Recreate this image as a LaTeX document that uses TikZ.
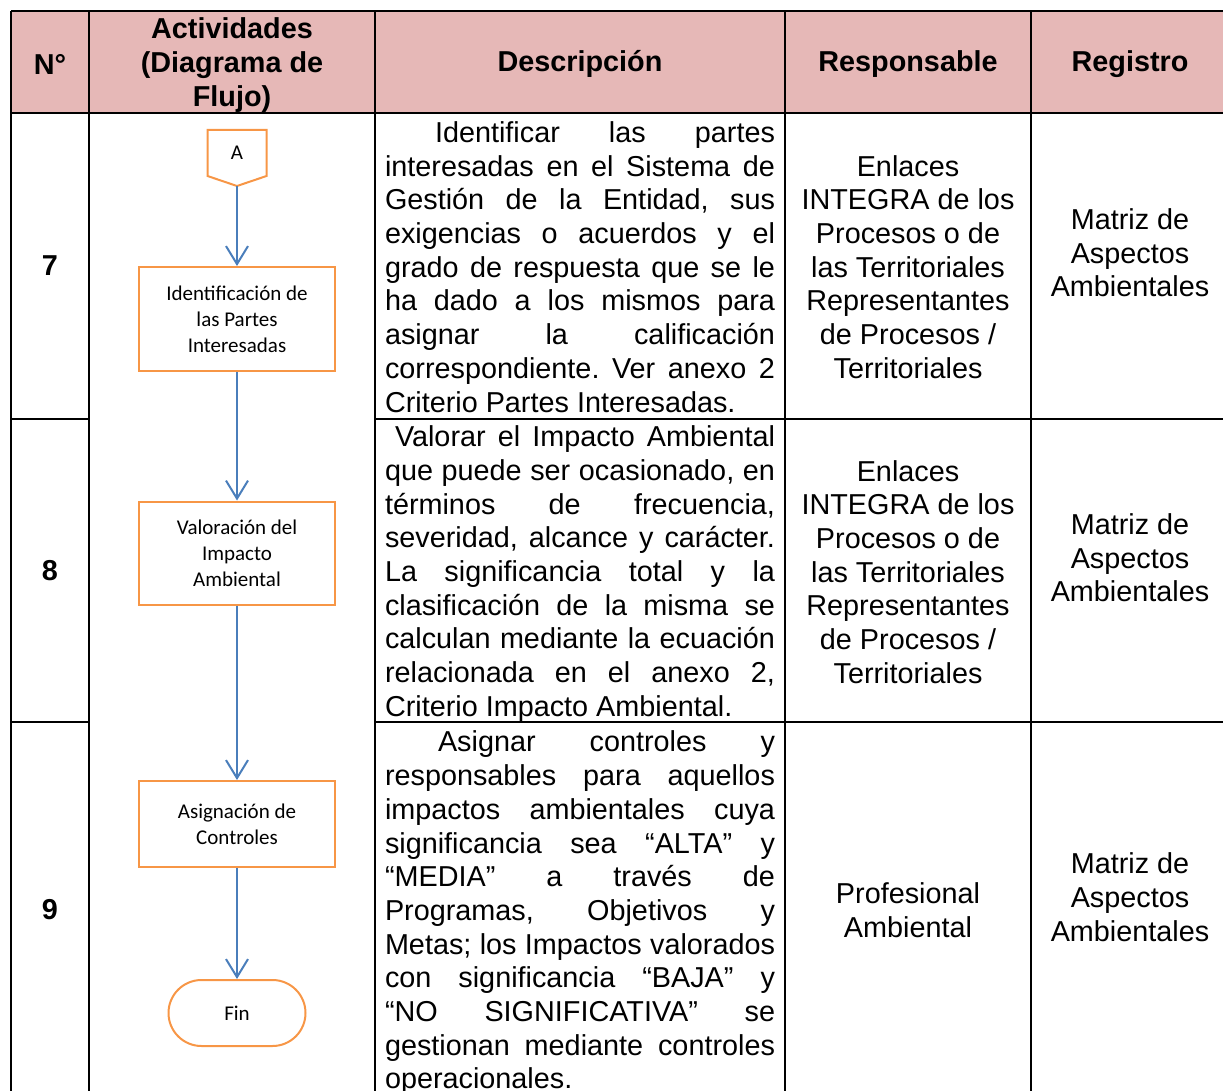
\documentclass[tikz,border=0pt]{standalone}
\usepackage{fontspec}
\setmainfont{Liberation Sans}
\newfontfamily\calibri{Carlito}
\usetikzlibrary{arrows.meta,positioning}
\definecolor{hdrpink}{RGB}{230,184,183}
\definecolor{boxorange}{RGB}{247,150,70}
\definecolor{lineblue}{RGB}{74,126,187}
\tolerance=10000
\hbadness=10000
\frenchspacing
\newcommand{\bodytxt}{\fontsize{28.8}{33.7}\selectfont}
\newcommand{\chartxt}{\calibri\fontsize{21}{26}\selectfont}
\tikzset{tabline/.style={line width=2.2pt}}
\tikzset{hdr/.style={font=\bodytxt\bfseries, align=center}}
\tikzset{cell/.style={font=\bodytxt, align=center}}
\tikzset{desc/.style={font=\bodytxt, text width=390pt, align=justify, inner sep=0pt}}
\tikzset{actbox/.style={draw=boxorange, line width=2pt, font=\chartxt, align=center, minimum width=196pt}}
\tikzset{flow/.style={draw=lineblue, line width=2pt, -{Straight Barb[length=18pt,width=22pt]}}}

\begin{document}
\begin{tikzpicture}[x=1pt,y=-1pt]
  \useasboundingbox (0,0) rectangle (1223,1091);
  \clip (0,0) rectangle (1223,1091);

  % header band and table rules
  \fill[hdrpink] (11,11) rectangle (1240,113);
  \draw[tabline] (11,11) -- (1240,11);
  \draw[tabline] (11,113) -- (1240,113);
  \draw[tabline] (11,419) -- (89,419);
  \draw[tabline] (375,419) -- (1240,419);
  \draw[tabline] (11,722) -- (89,722);
  \draw[tabline] (375,722) -- (1240,722);
  \foreach \x in {11,89,375,785,1031}
    \draw[tabline] (\x,11) -- (\x,1100);

  \node[hdr] (hdNum) at (50,64) {N°};
  \node[hdr] (hdAct) at (232,65) {Actividades\\(Diagrama de\\Flujo)};
  \node[hdr] (hdDesc) at (580,64) {Descripción};
  \node[hdr] (hdResp) at (908,64) {Responsable};
  \node[hdr] (hdReg) at (1130,64) {Registro};

  \node[hdr] (num7) at (50,266) {7};
  \node[hdr] (num8) at (50,571) {8};
  \node[hdr] (num9) at (50,910) {9};

  \node[desc] (desc7) at (580,267) {\noindent\hspace*{50pt}Identificar las partes\linebreak
    interesadas en el Sistema de\linebreak Gestión de la Entidad, sus\linebreak
    exigencias o acuerdos y el\linebreak grado de respuesta que se le\linebreak
    ha dado a los mismos para\linebreak asignar la calificación\linebreak
    correspondiente. Ver anexo 2\linebreak Criterio Partes Interesadas.};
  \node[desc] (desc8) at (580,574) {\noindent\hspace*{10pt}Valorar el Impacto Ambiental\linebreak
    que puede ser ocasionado, en\linebreak términos de frecuencia,\linebreak
    severidad, alcance y carácter.\linebreak La significancia total y la\linebreak
    clasificación de la misma se\linebreak calculan mediante la ecuación\linebreak
    relacionada en el anexo 2,\linebreak Criterio Impacto Ambiental.};
  \node[desc] (desc9) at (580,913) {\noindent\hspace*{53pt}Asignar controles y\linebreak
    responsables para aquellos\linebreak impactos ambientales cuya\linebreak
    significancia sea “ALTA” y\linebreak “MEDIA” a través de\linebreak
    Programas, Objetivos y\linebreak Metas; los Impactos valorados\linebreak
    con significancia “BAJA” y\linebreak “NO SIGNIFICATIVA” se\linebreak
    gestionan mediante controles\linebreak operacionales.};

  \node[cell] (resp7) at (908,267) {Enlaces\\INTEGRA de los\\Procesos o de\\las Territoriales\\Representantes\\de Procesos /\\Territoriales};
  \node[cell] (resp8) at (908,572) {Enlaces\\INTEGRA de los\\Procesos o de\\las Territoriales\\Representantes\\de Procesos /\\Territoriales};
  \node[cell] (resp9) at (908,910) {Profesional\\Ambiental};

  \node[cell] (reg7) at (1130,253) {Matriz de\\Aspectos\\Ambientales};
  \node[cell] (reg8) at (1130,558) {Matriz de\\Aspectos\\Ambientales};
  \node[cell] (reg9) at (1130,897) {Matriz de\\Aspectos\\Ambientales};

  % flow chart
  \node[actbox, draw=none, outer sep=0pt, minimum width=59pt, minimum height=46pt] (A) at (237,153) {A};
  \coordinate (Atip) at ([yshift=-10pt]A.south);
  \draw[boxorange, line width=2pt] (A.north west) -- (A.north east) -- (A.south east)
    -- (Atip) -- (A.south west) -- cycle;
  \node[actbox, minimum height=104pt] (ident) at (237,319) {Identificación de\\las Partes\\Interesadas};
  \node[actbox, minimum height=103pt] (valor) at (237,553) {Valoración del\\Impacto\\Ambiental};
  \node[actbox, minimum height=86pt] (asign) at (237,824) {Asignación de\\Controles};
  \node[actbox, minimum width=137pt, minimum height=66pt, rounded corners=33pt] (fin) at (237,1013) {Fin};

  \draw[flow] (Atip) -- (ident);
  \draw[flow] (ident) -- (valor);
  \draw[flow] (valor) -- (asign);
  \draw[flow] (asign) -- (fin);
\end{tikzpicture}
\end{document}
